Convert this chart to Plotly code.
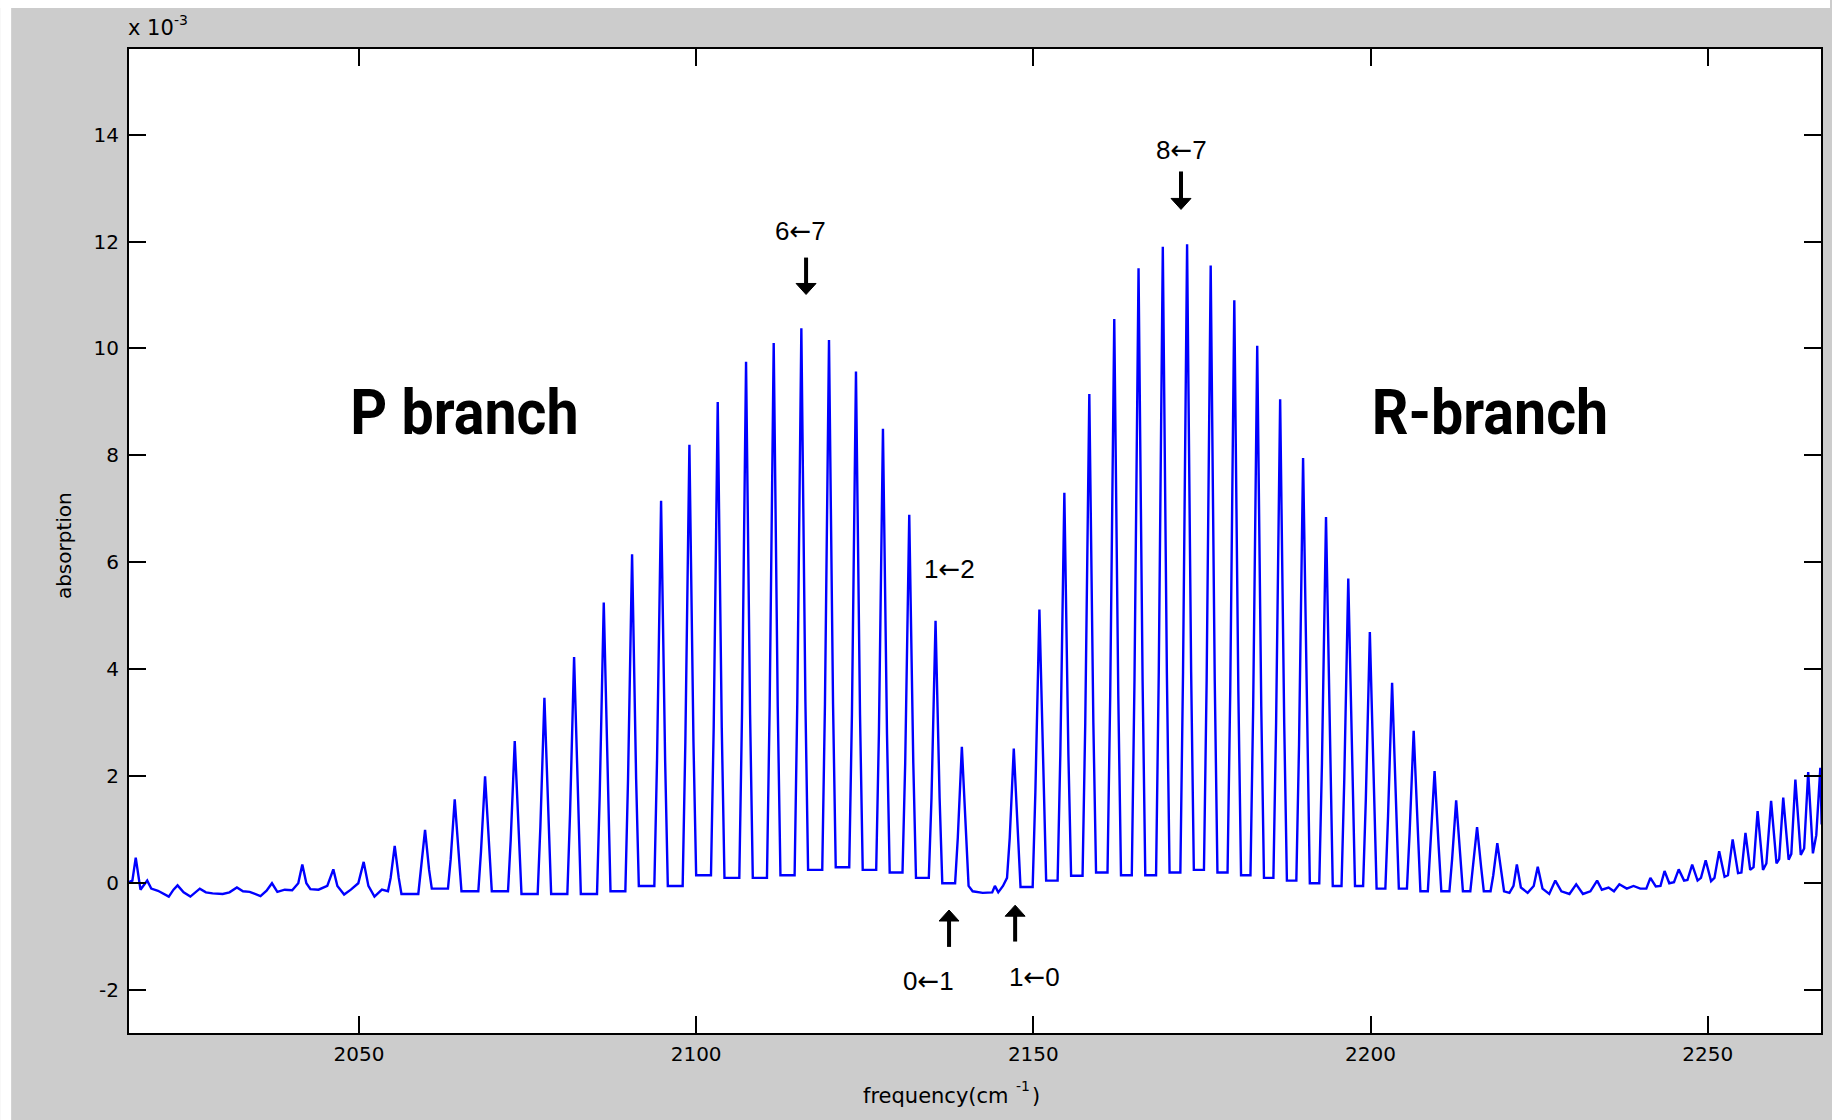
import plotly.graph_objects as go

# ---------------------------------------------------------------------------
# CO fundamental band, absorbance in units of 1e-3
# ---------------------------------------------------------------------------

low_nu = [2015.9, 2016.4, 2016.9, 2017.3, 2017.6, 2018.6, 2019.2, 2020.2, 2021.0, 2021.8,
          2022.5, 2023.1, 2024.0, 2025.0, 2026.4, 2027.3, 2028.3, 2029.8, 2030.8, 2031.9,
          2032.8, 2033.8, 2035.4, 2036.3, 2037.1, 2037.9, 2039.0, 2040.1, 2041.0, 2041.6,
          2042.2, 2042.8, 2044.0, 2045.3, 2046.2, 2046.8, 2047.8, 2048.8, 2049.9, 2050.7,
          2051.4, 2052.3, 2053.4]
low_abs = [0.02, 0.05, 0.48, 0.10, -0.12, 0.05, -0.10, -0.14, -0.20, -0.25,
           -0.12, -0.04, -0.17, -0.25, -0.10, -0.17, -0.19, -0.20, -0.17, -0.08,
           -0.15, -0.16, -0.24, -0.14, 0.00, -0.16, -0.12, -0.13, 0.00, 0.35,
           0.00, -0.11, -0.12, -0.05, 0.26, -0.05, -0.21, -0.12, 0.00, 0.40,
           -0.05, -0.25, -0.12]

# P branch lines P(21) ... P(1): centre, peak, flank height, valley levels
p_center = [2055.3, 2059.8, 2064.2, 2068.7, 2073.1, 2077.5, 2081.9, 2086.3, 2090.5, 2094.8,
            2099.0, 2103.2, 2107.4, 2111.5, 2115.6, 2119.7, 2123.7, 2127.7, 2131.6, 2135.5,
            2139.4]
p_top = [0.70, 1.00, 1.57, 2.00, 2.66, 3.47, 4.23, 5.25, 6.15, 7.15,
         8.20, 9.00, 9.75, 10.10, 10.38, 10.16, 9.57, 8.50, 6.89, 4.91,
         2.55]
p_knee = [0.10, 0.25, 0.45, 0.60, 0.80, 1.05, 1.30, 1.65, 1.95, 2.30,
          2.65, 2.90, 3.15, 3.30, 3.40, 3.35, 3.15, 2.80, 2.25, 1.60,
          0.85]
p_valley = [-0.15, -0.20, -0.10, -0.15, -0.15, -0.20, -0.20, -0.20, -0.15, -0.05,
            -0.05, 0.15, 0.10, 0.10, 0.15, 0.25, 0.30, 0.25, 0.20, 0.10,
            0.00, -0.05]

# band-centre gap between P(1) and R(0)
gap_nu = [2141.0, 2142.5, 2143.9, 2144.3, 2144.8, 2145.5]
gap_abs = [-0.15, -0.18, -0.17, -0.05, -0.17, -0.05]

# R branch lines R(0) ... R(21)
r_center = [2147.1, 2150.9, 2154.6, 2158.3, 2162.0, 2165.6, 2169.2, 2172.8, 2176.3, 2179.8,
            2183.2, 2186.6, 2190.0, 2193.4, 2196.7, 2199.9, 2203.2, 2206.4, 2209.5, 2212.7,
            2215.8, 2218.8]
r_top = [2.52, 5.12, 7.30, 9.15, 10.55, 11.50, 11.90, 11.95, 11.55, 10.90,
         10.05, 9.05, 7.95, 6.85, 5.70, 4.70, 3.75, 2.85, 2.10, 1.55,
         1.05, 0.75]
r_knee = [0.85, 1.70, 2.40, 3.00, 3.50, 3.80, 3.95, 3.95, 3.80, 3.60,
          3.30, 3.00, 2.60, 2.25, 1.90, 1.55, 1.25, 0.95, 0.70, 0.45,
          0.30, 0.15]
r_valley = [0.10, -0.07, 0.05, 0.14, 0.20, 0.15, 0.15, 0.20, 0.25, 0.20,
            0.15, 0.10, 0.05, 0.00, -0.05, -0.05, -0.10, -0.10, -0.15, -0.15,
            -0.15, -0.15, -0.15]

high_nu = [2220.6, 2221.2, 2221.7, 2222.3, 2223.3, 2224.2, 2224.8, 2225.5, 2226.5, 2227.4,
           2228.3, 2229.5, 2230.5, 2231.5, 2232.6, 2233.6, 2234.3, 2235.3, 2236.1, 2236.9,
           2238.0, 2239.0, 2240.0, 2240.9, 2241.5, 2242.3, 2243.0, 2243.6, 2244.3, 2245.0,
           2245.7, 2246.5, 2247.0, 2247.7, 2248.5, 2249.0, 2249.7, 2250.5, 2251.0, 2251.7,
           2252.5, 2253.0, 2253.7, 2254.5, 2255.0, 2255.6, 2256.3, 2256.8, 2257.4, 2258.2,
           2258.7, 2259.4, 2260.2, 2260.6, 2261.2, 2262.0, 2262.4, 2263.0, 2263.8, 2264.3,
           2264.9, 2265.6, 2266.1, 2266.7, 2266.9]
high_abs = [-0.18, -0.05, 0.35, -0.08, -0.18, -0.05, 0.31, -0.10, -0.20, 0.05,
            -0.15, -0.20, -0.02, -0.20, -0.15, 0.05, -0.12, -0.08, -0.15, -0.02,
            -0.10, -0.05, -0.10, -0.10, 0.10, -0.06, -0.05, 0.23, 0.00, 0.02,
            0.26, 0.05, 0.06, 0.35, 0.05, 0.10, 0.43, 0.04, 0.10, 0.60,
            0.12, 0.15, 0.82, 0.19, 0.20, 0.94, 0.25, 0.30, 1.35, 0.25,
            0.37, 1.54, 0.37, 0.45, 1.60, 0.44, 0.55, 1.94, 0.53, 0.65,
            2.08, 0.56, 0.90, 2.16, 1.10]

x_ticks = [2050, 2100, 2150, 2200, 2250]
y_ticks = [-2, 0, 2, 4, 6, 8, 10, 12, 14]
X_RANGE = [2015.9, 2266.8]
Y_RANGE = [-2.8, 15.6]

# line profile geometry (cm-1 from the line centre)
FOOT = 1.0
KNEE = 0.6


def branch_trace(centers, tops, knees, valleys):
    xs, ys = [], []
    for i, (c, t, k) in enumerate(zip(centers, tops, knees)):
        xs += [c - FOOT, c - KNEE, c, c + KNEE, c + FOOT]
        ys += [valleys[i], k, t, k, valleys[i + 1]]
    return xs, ys


px, py = branch_trace(p_center, p_top, p_knee, p_valley)
rx, ry = branch_trace(r_center, r_top, r_knee, r_valley)
nu = low_nu + px + gap_nu + rx + high_nu
absorb = low_abs + py + gap_abs + ry + high_abs

# page geometry
W, H = 1832, 1120
ML, MR, MT, MB = 129, 9, 49, 87
PW, PH = W - ML - MR, H - MT - MB
X_PER_PX = (X_RANGE[1] - X_RANGE[0]) / PW
Y_PER_PX = (Y_RANGE[1] - Y_RANGE[0]) / PH


def xp(pix):
    return (pix - ML) / PW


def yp(pix):
    return (H - MB - pix) / PH


fig = go.Figure(go.Scatter(x=nu, y=absorb, mode="lines",
                           line=dict(color="#0000ff", width=2.4), hoverinfo="skip"))

tick_font = dict(family="DejaVu Sans", size=20, color="black")
axis_common = dict(ticks="inside", ticklen=17, tickwidth=2, tickcolor="black",
                   showline=True, linewidth=2, linecolor="black", mirror="ticks",
                   showgrid=False, zeroline=False, tickfont=tick_font)

fig.update_xaxes(range=X_RANGE, tickvals=x_ticks,
                 ticktext=[str(v) for v in x_ticks], ticklabelstandoff=2, **axis_common)
fig.update_yaxes(range=Y_RANGE, tickvals=y_ticks,
                 ticktext=[str(v) for v in y_ticks], ticklabelstandoff=4, **axis_common)

title_font = dict(family="DejaVu Sans", size=21, color="black")
small_font = dict(family="DejaVu Sans", size=14, color="black")
label_font = dict(family="Liberation Sans, Arial, sans-serif", size=26, color="black")
branch_font = dict(family="Roboto, Arial, sans-serif", size=63, color="black")
ARROW = "<span style='font-family:DejaVu Sans'>\u2190</span>"


def page_text(text, x, y, font, xanchor="center", yanchor="middle", angle=0):
    return dict(text=text, xref="paper", yref="paper", x=xp(x), y=yp(y), xanchor=xanchor,
                yanchor=yanchor, textangle=angle, showarrow=False, font=font)


annotations = [
    # exponent of the absorbance scale
    page_text("x\u00a010", 126, 42, title_font, xanchor="left", yanchor="bottom"),
    page_text("-3", 172, 20, small_font, xanchor="left"),
    # axis titles
    page_text("absorption", 64, 546, tick_font, angle=-90),
    page_text("frequency(cm", 1012, 1096, title_font, xanchor="right"),
    page_text("-1", 1015, 1086, small_font, xanchor="left"),
    page_text(")", 1031, 1096, title_font, xanchor="left"),
    # branch captions and transition labels
    dict(text="<b>P branch</b>", x=2065.7, y=8.8, showarrow=False, font=branch_font),
    dict(text="<b>R-branch</b>", x=2217.7, y=8.8, showarrow=False, font=branch_font),
    dict(text="6" + ARROW + "7", x=2115.4, y=12.2, showarrow=False, font=label_font),
    dict(text="8" + ARROW + "7", x=2172.0, y=13.72, showarrow=False, font=label_font),
    dict(text="1" + ARROW + "2", x=2137.6, y=5.87, showarrow=False, font=label_font),
    dict(text="0" + ARROW + "1", x=2134.5, y=-1.82, showarrow=False, font=label_font),
    dict(text="1" + ARROW + "0", x=2150.1, y=-1.75, showarrow=False, font=label_font),
]

# pointer arrows drawn as shaft + solid head: (tip x, tip y, tail y)
arrows = [(2116.3, 11.01, 11.70),
          (2171.9, 12.60, 13.31),
          (2137.5, -0.50, -1.19),
          (2147.3, -0.41, -1.09)]
HEAD_HALF_W = 10 * X_PER_PX
HEAD_LEN = 11 * Y_PER_PX

shapes = [
    dict(type="rect", xref="paper", yref="paper", x0=xp(0), x1=xp(W), y0=yp(8), y1=yp(0),
         fillcolor="white", line=dict(width=0), layer="above"),
    dict(type="rect", xref="paper", yref="paper", x0=xp(0), x1=xp(11), y0=yp(H), y1=yp(0),
         fillcolor="white", line=dict(width=0), layer="above"),
]
for tx, ty, sy in arrows:
    d = 1 if sy > ty else -1
    base = ty + d * HEAD_LEN
    shapes.append(dict(type="line", xref="x", yref="y", x0=tx, x1=tx, y0=sy, y1=base - d * 0.02,
                       line=dict(color="black", width=4)))
    shapes.append(dict(type="path", xref="x", yref="y",
                       path=f"M {tx - HEAD_HALF_W},{base} L {tx + HEAD_HALF_W},{base} L {tx},{ty} Z",
                       fillcolor="black", line=dict(color="black", width=1)))

fig.update_layout(width=W, height=H, margin=dict(l=ML, r=MR, t=MT, b=MB),
                  paper_bgcolor="#cccccc", plot_bgcolor="white", showlegend=False,
                  annotations=annotations, shapes=shapes)

# narrow the heavy branch captions to a condensed width
condense = """
var gd = document.getElementById('{plot_id}');
gd.querySelectorAll('text.annotation-text').forEach(function (t) {
  if (t.textContent.indexOf('branch') >= 0) {
    t.style.transformBox = 'fill-box';
    t.style.transformOrigin = 'center';
    t.style.transform = 'scaleX(0.91)';
  }
});
"""

fig.write_html("out.html", config={"displayModeBar": False}, post_script=condense)
